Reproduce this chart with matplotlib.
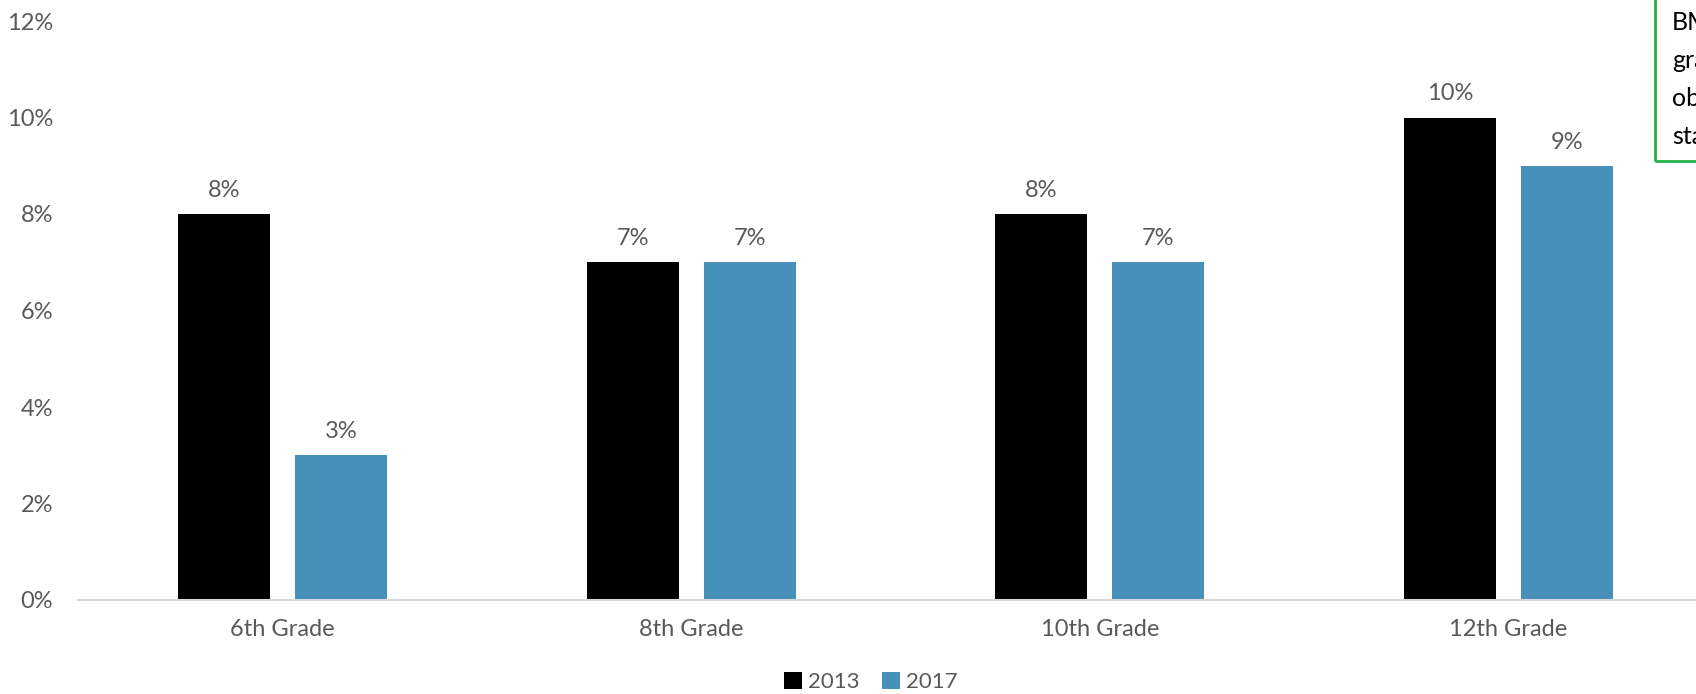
import matplotlib
matplotlib.use("Agg")
import matplotlib.pyplot as plt
from matplotlib.patches import Rectangle

categories = ["6th Grade", "8th Grade", "10th Grade", "12th Grade"]
series_names = ["2013", "2017"]
values_2013 = [8, 7, 8, 10]
values_2017 = [3, 7, 7, 9]
yticks = [0, 2, 4, 6, 8, 10, 12]
note_lines = ["BMI", "grades", "obesity", "stable"]

plt.rcParams['font.family'] = ['Lato', 'DejaVu Sans']
TXT = '#595959'
C13 = '#000000'
C17 = '#4690BA'
FS = 17

fig = plt.figure(figsize=(16.96, 6.94), dpi=100)
ax = fig.add_axes([78/1696, 94/694, 1635/1696, 579/694])

x = list(range(len(categories)))
w = 0.225
off = 0.143
b1 = ax.bar([i - off for i in x], values_2013, width=w, color=C13, label=series_names[0])
b2 = ax.bar([i + off for i in x], values_2017, width=w, color=C17, label=series_names[1])

for bars, vals in ((b1, values_2013), (b2, values_2017)):
    for r, v in zip(bars, vals):
        ax.annotate(f"{v}%", (r.get_x() + r.get_width()/2, v), xytext=(0, 17),
                    textcoords='offset points', ha='center', va='center',
                    fontsize=FS, color=TXT)

ax.set_xlim(-0.5, len(categories) - 0.5)
ax.set_ylim(0, 12)
ax.set_yticks(yticks)
ax.set_yticklabels([f"{t}%" for t in yticks], fontsize=FS, color=TXT)
ax.set_xticks(x)
ax.set_xticklabels(categories, fontsize=FS, color=TXT)
ax.tick_params(axis='y', length=0, pad=18)
ax.tick_params(axis='x', length=0, pad=14)
for s in ['top', 'right', 'left']:
    ax.spines[s].set_visible(False)
ax.spines['bottom'].set_color('#d9d9d9')
ax.spines['bottom'].set_linewidth(1.5)

leg = fig.legend(handles=[b1, b2], labels=series_names, loc='center',
                 bbox_to_anchor=(871/1696, 1 - 682/694), ncol=2, frameon=False,
                 fontsize=16, handlelength=0.8, handleheight=0.8,
                 handletextpad=0.3, columnspacing=1.0)
for t in leg.get_texts():
    t.set_color(TXT)

# annotation box (clipped at right edge)
fig.patches.append(Rectangle((1655/1696, 1 - 161/694), 0.2, 0.3,
                             transform=fig.transFigure, fill=False,
                             edgecolor='#22B14C', linewidth=2))
for i, line in enumerate(note_lines):
    fig.text(1672/1696, 1 - (23 + 38*i)/694, line, fontsize=18, color='black',
             ha='left', va='center')

fig.savefig("out.png", dpi=100)
